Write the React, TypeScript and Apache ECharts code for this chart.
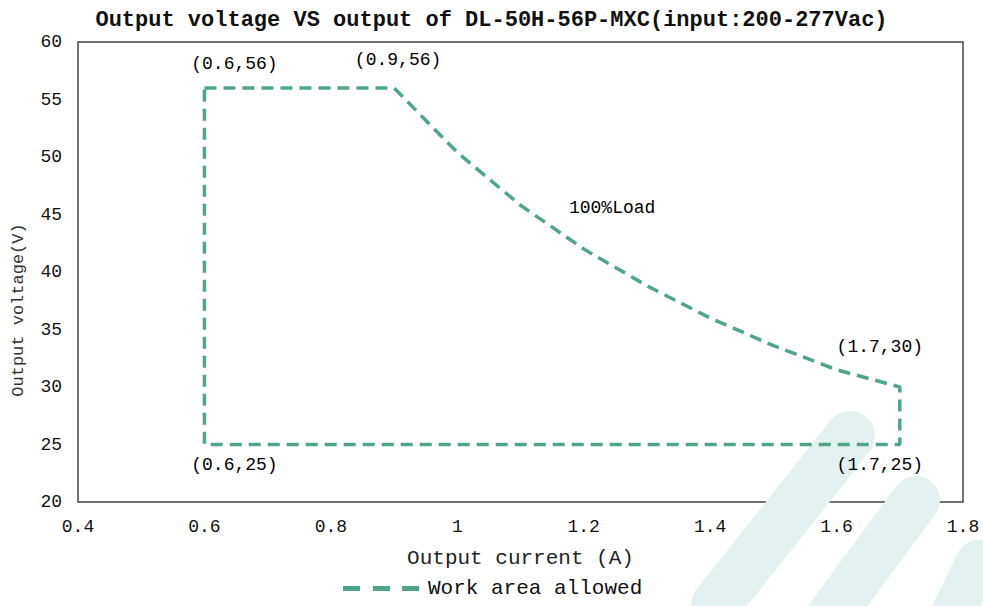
import React, { useEffect, useRef } from "react";
import * as echarts from "echarts";

const TITLE = "Output voltage VS output of DL-50H-56P-MXC(input:200-277Vac)";
const X_NAME = "Output current (A)";
const Y_NAME = "Output voltage(V)";
const SERIES_NAME = "Work area allowed";

// Boundary of the allowed working area: [current A, voltage V]
const areaCurrent = [0.6, 0.9, 1.0, 1.1, 1.2, 1.3, 1.4, 1.5, 1.6, 1.7, 1.7, 0.6, 0.6];
const areaVoltage = [56, 56, 50.4, 45.8, 42.0, 38.8, 36.0, 33.6, 31.5, 30, 25, 25, 56];

// Point annotations
const noteText = ["(0.6,56)", "(0.9,56)", "(1.7,30)", "(0.6,25)", "(1.7,25)", "100%Load"];
const noteCurrent = [0.6, 0.9, 1.7, 0.6, 1.7, 1.245];
const noteVoltage = [56, 56, 30, 25, 25, 45.6];
const noteOffsetX = [30, 4, -20, 30, -20, 0];
const noteOffsetY = [-24, -28, -40, 20, 20, 0];

const FONT = "'Liberation Mono', 'DejaVu Sans Mono', monospace";
const LINE_COLOR = "#4ea687";
const MARK_COLOR = "#e3f1f0";
const DASH_ICON = "path://M0,0h17v5h-17z M30,0h17v5h-17z M59,0h17v5h-17z";

export default function App() {
  const ref = useRef<HTMLDivElement>(null);
  useEffect(() => {
    if (!ref.current) return;
    const chart = echarts.init(ref.current, undefined, { renderer: "svg" });
    const lineData = areaCurrent.map((c, i) => [c, areaVoltage[i]]);
    const noteData = noteText.map((t, i) => ({
      value: [noteCurrent[i], noteVoltage[i]],
      label: {
        show: true,
        formatter: t,
        position: "inside",
        offset: [noteOffsetX[i], noteOffsetY[i]],
        fontFamily: FONT,
        fontSize: 18,
        color: "#000",
        textBorderWidth: 0,
        opacity: 1,
      },
    }));
    chart.setOption({
      animation: false,
      backgroundColor: "#ffffff",
      title: {
        text: TITLE,
        left: "center",
        top: 4,
        textStyle: { fontFamily: FONT, fontSize: 22, fontWeight: "bold", color: "#111" },
      },
      grid: {
        left: 78,
        right: 20,
        top: 42,
        bottom: 104,
        show: true,
        borderColor: "#444",
        borderWidth: 1.5,
        backgroundColor: "transparent",
      },
      xAxis: {
        type: "value",
        min: 0.4,
        max: 1.8,
        interval: 0.2,
        name: X_NAME,
        nameLocation: "middle",
        nameGap: 46,
        nameTextStyle: { fontFamily: FONT, fontSize: 21, color: "#222" },
        axisLine: { show: false },
        axisTick: { show: false },
        splitLine: { show: false },
        axisLabel: {
          fontFamily: FONT,
          fontSize: 18,
          color: "#111",
          margin: 16,
          formatter: (v: number) => String(Math.round(v * 10) / 10),
        },
      },
      yAxis: {
        type: "value",
        min: 20,
        max: 60,
        interval: 5,
        axisLine: { show: false },
        axisTick: { show: false },
        splitLine: { show: false },
        axisLabel: { fontFamily: FONT, fontSize: 18, color: "#111", margin: 16 },
      },
      legend: {
        data: [{ name: SERIES_NAME, icon: DASH_ICON }],
        left: 343,
        top: 578,
        padding: 0,
        itemWidth: 76,
        itemHeight: 5,
        itemStyle: { color: LINE_COLOR, borderWidth: 0 },
        textStyle: { fontFamily: FONT, fontSize: 21, color: "#111", padding: [0, 0, 0, 4] },
      },
      graphic: [
        {
          type: "group",
          z: -10,
          silent: true,
          children: [
            { type: "line", shape: { x1: 850, y1: 436, x2: 716, y2: 605 }, style: { stroke: MARK_COLOR, lineWidth: 50, lineCap: "round" } },
            { type: "line", shape: { x1: 916, y1: 500, x2: 820, y2: 630 }, style: { stroke: MARK_COLOR, lineWidth: 48, lineCap: "round" } },
            { type: "line", shape: { x1: 978, y1: 562, x2: 940, y2: 640 }, style: { stroke: MARK_COLOR, lineWidth: 44, lineCap: "round" } },
          ],
        },
        {
          type: "text",
          x: 18,
          y: 310,
          rotation: Math.PI / 2,
          style: {
            text: Y_NAME,
            fontFamily: FONT,
            fontSize: 17,
            fill: "#333",
            align: "center",
            verticalAlign: "middle",
          },
        },
      ],
      series: [
        {
          name: SERIES_NAME,
          type: "line",
          data: lineData,
          symbol: "none",
          lineStyle: { color: LINE_COLOR, width: 3.5, type: [12, 7] },
          itemStyle: { color: LINE_COLOR },
          z: 3,
        },
        {
          name: "notes",
          type: "scatter",
          data: noteData,
          symbolSize: 0,
          itemStyle: { color: "#000", opacity: 0 },
          z: 4,
        },
      ],
    });
    return () => chart.dispose();
  }, []);
  return <div ref={ref} style={{ width: 983, height: 606, position: "absolute", left: 0, top: 0 }} />;
}
